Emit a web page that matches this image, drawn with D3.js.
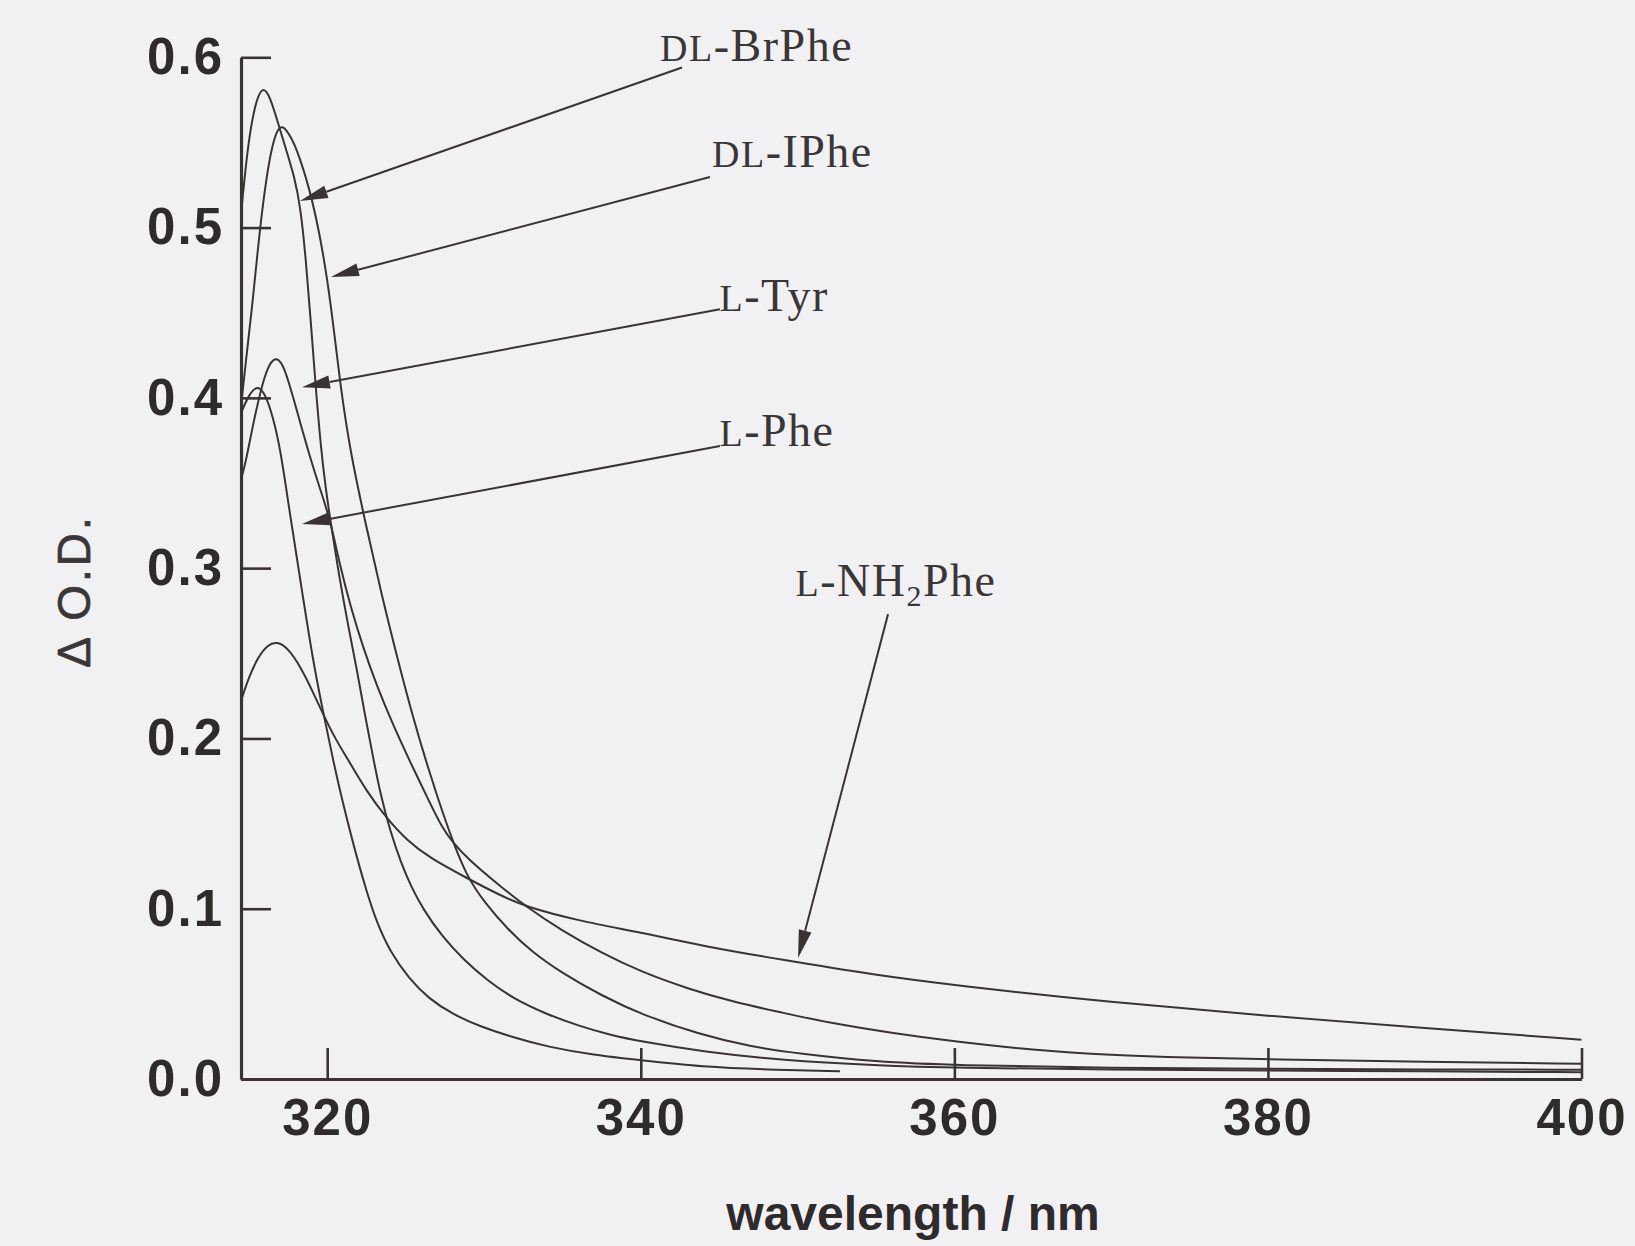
<!DOCTYPE html>
<html>
<head>
<meta charset="utf-8">
<script src="https://cdn.jsdelivr.net/npm/d3@7"></script>
<style>
  body { margin: 0; background: #f1f1f3; }
  svg { display: block; }
</style>
</head>
<body>
<script>
var width = 1635,
    height = 1246;

// difference spectra: [wavelength / nm, dO.D.]
var brPhe = [[314.5,0.508],[314.8,0.536],[315.1,0.558],[315.5,0.576],[315.92,0.583],[316.35,0.577],
  [316.88,0.561],[317.4,0.545],[317.9,0.530],[318.3,0.512],[318.65,0.480],[318.95,0.445],[319.25,0.408],
  [319.6,0.370],[319.9,0.347],[320.2,0.328],[320.8,0.293],[321.4,0.263],[321.9,0.240],[322.4,0.214],
  [322.9,0.190],[323.4,0.167],[324.0,0.146],[324.7,0.127],[325.4,0.112],[326.1,0.100],[327.3,0.084],
  [328.7,0.070],[330.2,0.058],[331.9,0.047],[334,0.038],[336.1,0.031],[338,0.026],[340,0.022],
  [344,0.016],[349,0.011],[355,0.008],[360,0.0065],[370,0.0055],[380,0.005],[390,0.0045],[400,0.004]];

var iPhe = [[314.5,0.395],[314.85,0.425],[315.2,0.452],[315.7,0.500],[316.3,0.542],[316.88,0.561],
  [317.4,0.558],[318.05,0.547],[318.9,0.522],[319.5,0.497],[320.0,0.470],[320.4,0.442],[320.8,0.410],
  [321.45,0.369],[322.45,0.326],[323.45,0.285],[324.45,0.248],[325.45,0.213],[326.45,0.182],
  [327.45,0.154],[328.0,0.140],[328.9,0.119],[330,0.104],[331.5,0.088],[333,0.075],[335,0.062],
  [337.5,0.049],[340,0.038],[343.8,0.026],[347,0.019],[350,0.015],[355,0.010],[360,0.008],
  [370,0.0065],[380,0.006],[390,0.0055],[400,0.0055]];

var tyr = [[314.5,0.352],[314.8,0.362],[315.3,0.386],[315.8,0.406],[316.2,0.418],[316.65,0.424],
  [317.1,0.421],[317.5,0.411],[318.2,0.388],[319.0,0.362],[319.6,0.345],[320.2,0.328],[320.8,0.302],
  [321.5,0.277],[322.3,0.253],[323.2,0.230],[324.2,0.208],[325.3,0.186],[326.5,0.163],[327.3,0.148],
  [328.0,0.139],[329,0.129],[330.8,0.115],[332.7,0.101],[335,0.087],[337.5,0.074],[340,0.063],
  [343,0.053],[346,0.045],[349,0.039],[352,0.033],[356,0.027],[360,0.022],[365,0.017],[370,0.014],
  [375,0.0125],[380,0.0115],[390,0.010],[400,0.009]];

var phe = [[314.5,0.391],[315.0,0.402],[315.6,0.408],[316.1,0.401],[316.5,0.390],[317.0,0.371],
  [317.6,0.333],[318.3,0.292],[319.1,0.245],[319.75,0.215],[320.4,0.186],[321.0,0.162],[321.6,0.140],
  [322.5,0.110],[323.2,0.091],[324.0,0.075],[325.2,0.059],[326.5,0.047],[328,0.038],[329.7,0.031],
  [332,0.024],[334,0.019],[337,0.014],[340,0.011],[344,0.007],[348,0.0055],[352.7,0.0045]];

var nh2Phe = [[314.5,0.222],[315.0,0.236],[315.6,0.248],[316.2,0.255],[316.8,0.257],[317.5,0.253],
  [318.3,0.242],[319.0,0.229],[319.75,0.214],[320.5,0.200],[321.3,0.188],[322.5,0.169],[323.8,0.153],
  [325.1,0.140],[326.5,0.130],[328.9,0.118],[331,0.108],[332.7,0.101],[336,0.093],[340,0.086],
  [344,0.078],[349,0.070],[355,0.061],[360,0.055],[370,0.045],[380,0.037],[390,0.030],[400,0.023]];

var yTicks = [0, 0.1, 0.2, 0.3, 0.4, 0.5, 0.6];
var xTicks = [320, 340, 360, 380, 400];

// label pieces: small-cap prefix, main text, optional subscript + rest
var labels = [
  {sc: "DL", text: "-BrPhe", tx: 341.23, ty: 0.598, from: [342.63, 0.594], tip: [318.26, 0.5156]},
  {sc: "DL", text: "-IPhe",  tx: 344.54, ty: 0.5355, from: [344.41, 0.5297], tip: [320.24, 0.471]},
  {sc: "L",  text: "-Tyr",   tx: 345.02, ty: 0.451, from: [345.05, 0.452], tip: [318.39, 0.4063]},
  {sc: "L",  text: "-Phe",   tx: 345.02, ty: 0.3717, from: [345.05, 0.3717], tip: [318.39, 0.3259]},
  {sc: "L",  text: "-NH", sub: "2", rest: "Phe", tx: 349.87, ty: 0.2836, from: [355.77, 0.273], tip: [350.03, 0.0711]}
];

var ink = "#3a3336";

var svg = d3.select("body").append("svg")
    .attr("width", width)
    .attr("height", height)
    .style("background", "#f1f1f3");

var x = d3.scaleLinear().domain([314.5, 400]).range([241, 1581.5]);
var y = d3.scaleLinear().domain([0, 0.6]).range([1079, 57.3]);

var line = d3.line()
    .x(function(d) { return x(d[0]); })
    .y(function(d) { return y(d[1]); })
    .curve(d3.curveBasis);

svg.append("g").selectAll("path")
    .data([brPhe, iPhe, tyr, phe, nh2Phe])
  .enter().append("path")
    .attr("d", line)
    .attr("fill", "none")
    .attr("stroke", ink)
    .attr("stroke-width", 2);

// axes, ticks point inward
var yAxis = svg.append("g")
    .attr("transform", "translate(" + x.range()[0] + ",0)")
    .call(d3.axisLeft(y).tickValues(yTicks).tickFormat(d3.format(".1f"))
      .tickSize(-30).tickSizeOuter(0).tickPadding(17));

var xAxis = svg.append("g")
    .attr("transform", "translate(0," + y(0) + ")")
    .call(d3.axisBottom(x).tickValues(xTicks).tickFormat(d3.format("d"))
      .tickSize(-31).tickSizeOuter(0).tickPadding(20));

[yAxis, xAxis].forEach(function(g) {
  g.select(".domain").attr("stroke", ink).attr("stroke-width", 3.2);
  g.selectAll(".tick line").attr("stroke", ink).attr("stroke-width", 2.6);
  g.selectAll(".tick text")
    .attr("fill", "#2f2b2d")
    .style("font-family", "'Liberation Sans', Arial, Helvetica, sans-serif")
    .style("font-weight", "bold")
    .style("font-size", "51px")
    .style("letter-spacing", "2px");
});

svg.append("text")
    .attr("x", 913)
    .attr("y", 1230)
    .attr("text-anchor", "middle")
    .attr("fill", "#2f2b2d")
    .style("font-family", "'Liberation Sans', Arial, Helvetica, sans-serif")
    .style("font-weight", "bold")
    .style("font-size", "48px")
    .text("wavelength / nm");

svg.append("text")
    .attr("transform", "translate(90,591)rotate(-90)")
    .attr("text-anchor", "middle")
    .attr("fill", "#3a3537")
    .attr("stroke", "#3a3537")
    .attr("stroke-width", 0.7)
    .style("font-family", "'Liberation Sans', Arial, Helvetica, sans-serif")
    .style("font-size", "46px")
    .style("letter-spacing", "3px")
    .text("\u0394 O.D.");

// labels with leader arrows
var ann = svg.append("g");

labels.forEach(function(d) {
  var t = ann.append("text")
      .attr("x", x(d.tx))
      .attr("y", y(d.ty))
      .attr("fill", "#3a3537")
      .style("font-family", "'Liberation Serif', 'Times New Roman', serif")
      .style("font-size", "46px")
      .style("letter-spacing", "1.5px");
  t.append("tspan").style("font-size", "38px").text(d.sc);
  t.append("tspan").text(d.text);
  if (d.sub) {
    t.append("tspan").style("font-size", "30px").attr("dy", 10).text(d.sub);
    t.append("tspan").attr("dy", -10).text(d.rest);
  }

  var x1 = x(d.from[0]), y1 = y(d.from[1]),
      x2 = x(d.tip[0]), y2 = y(d.tip[1]);
  var len = Math.sqrt((x2 - x1) * (x2 - x1) + (y2 - y1) * (y2 - y1)),
      ux = (x2 - x1) / len, uy = (y2 - y1) / len,
      head = 28, half = 6.5;
  var bx = x2 - ux * head, by = y2 - uy * head;

  ann.append("line")
      .attr("x1", x1).attr("y1", y1)
      .attr("x2", bx).attr("y2", by)
      .attr("stroke", ink)
      .attr("stroke-width", 2);

  ann.append("path")
      .attr("d", "M" + x2 + "," + y2 +
        "L" + (bx - uy * half) + "," + (by + ux * half) +
        "L" + (bx + uy * half) + "," + (by - ux * half) + "Z")
      .attr("fill", ink);
});
</script>
</body>
</html>
